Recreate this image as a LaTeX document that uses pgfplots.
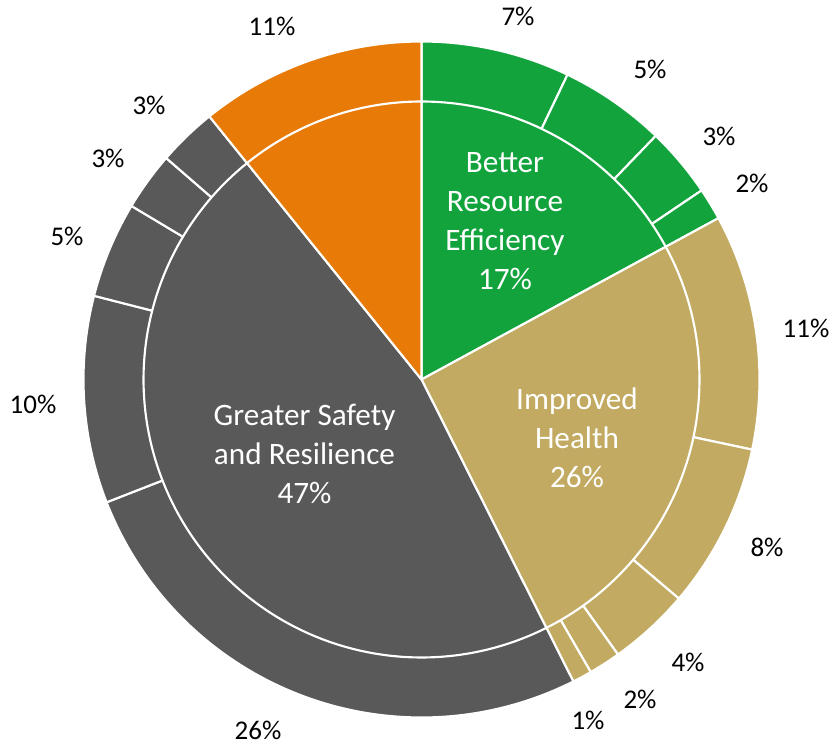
\documentclass[border=0pt]{standalone}
\usepackage{fontspec}
\setmainfont{Carlito}
\usepackage{pgfplots}
\pgfplotsset{compat=1.18}
\definecolor{cgreen}{HTML}{13A33D}
\definecolor{ctan}{HTML}{C2AA62}
\definecolor{cgray}{HTML}{595959}
\definecolor{corange}{HTML}{E87A07}
\newcommand\total{100.01}
\gdef\cum{0}
% #1 radius (px), #2 share (percent), #3 colour
\newcommand\slice[3]{%
  \pgfmathsetmacro\aS{90-(\cum/\total)*360}%
  \pgfmathsetmacro\newcum{\cum+#2}%
  \xdef\cum{\newcum}%
  \pgfmathsetmacro\aE{90-(\cum/\total)*360}%
  \edef\doslice{\noexpand\addplot[fill=#3, draw=white, line width=1.6pt, line join=round, domain=0:1, samples=121, variable=\noexpand\t]
    ({421.5+ifthenelse(\noexpand\t<0.004,0,#1*cos((\aS)+((\aE)-(\aS))*(\noexpand\t-1/120)*120/119))},
     {364.5+ifthenelse(\noexpand\t<0.004,0,#1*sin((\aS)+((\aE)-(\aS))*(\noexpand\t-1/120)*120/119))}) -- cycle;}%
  \doslice
}
\newcommand\outerfont{\fontsize{20.25}{24}\selectfont}
\newcommand\innerfont{\fontsize{23.4}{29.25}\selectfont}
\begin{document}
\begin{tikzpicture}
\begin{axis}[width=624pt, height=558pt, scale only axis, xmin=0, xmax=832, ymin=0, ymax=744, hide axis, clip=false]
\addplot[draw=none] coordinates {(0,0) (832,744)};
% outer ring
\gdef\cum{0}
\slice{338}{7.11}{cgreen}
\slice{338}{5.08}{cgreen}
\slice{338}{3.36}{cgreen}
\slice{338}{1.53}{cgreen}
\slice{338}{11.25}{ctan}
\slice{338}{7.9}{ctan}
\slice{338}{3.9}{ctan}
\slice{338}{1.53}{ctan}
\slice{338}{0.93}{ctan}
\slice{338}{26.5}{cgray}
\slice{338}{9.9}{cgray}
\slice{338}{4.6}{cgray}
\slice{338}{2.79}{cgray}
\slice{338}{2.83}{cgray}
\slice{338}{10.8}{corange}
% inner ring
\gdef\cum{0}
\slice{278}{17.08}{cgreen}
\slice{278}{25.51}{ctan}
\slice{278}{46.62}{cgray}
\slice{278}{10.8}{corange}
% outer labels
\begin{scope}[every node/.style={font=\outerfont, inner sep=0pt, text=black}]
\node at (axis cs:518,727.5) {7\%};
\node at (axis cs:650,675) {5\%};
\node at (axis cs:719,608) {3\%};
\node at (axis cs:752,561) {2\%};
\node at (axis cs:806,416) {11\%};
\node at (axis cs:767,197) {8\%};
\node at (axis cs:688,82) {4\%};
\node at (axis cs:640,45) {2\%};
\node at (axis cs:588,24) {1\%};
\node at (axis cs:258,14) {26\%};
\node at (axis cs:33,340) {10\%};
\node at (axis cs:67,508) {5\%};
\node at (axis cs:108,586) {3\%};
\node at (axis cs:149,639) {3\%};
\node at (axis cs:272,718) {11\%};
\end{scope}
% inner labels
\begin{scope}[every node/.style={font=\innerfont, inner sep=0pt, text=white, align=center}]
\node at (axis cs:505,523) {Better\\Resource\\Efficiency\\17\%};
\node at (axis cs:577,306) {Improved\\Health\\26\%};
\node at (axis cs:304.5,290) {Greater Safety\\and Resilience\\47\%};
\end{scope}
\end{axis}
\end{tikzpicture}
\end{document}
